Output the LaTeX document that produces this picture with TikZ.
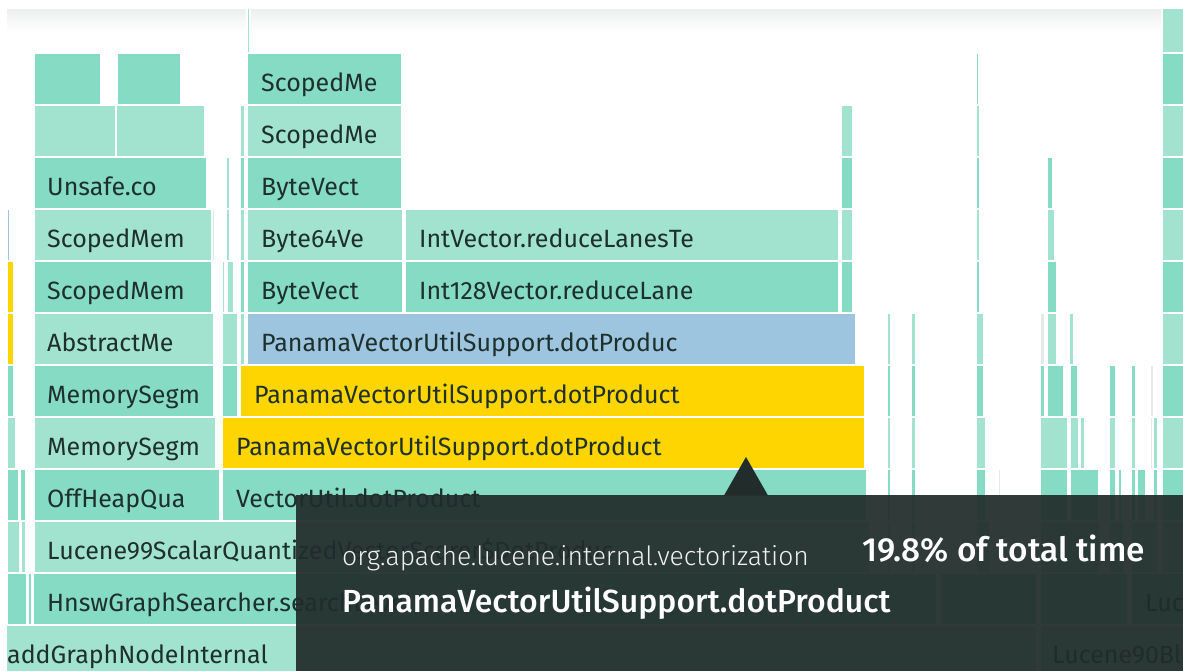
\documentclass[tikz,border=0pt]{standalone}
\usepackage{fontspec}
\setmainfont{Fira Sans}
\newfontfamily\lightf{Fira Sans Light}
\newfontfamily\medf{Fira Sans Medium}
\definecolor{tD}{HTML}{86DBC4}
\definecolor{tL}{HTML}{A2E3D0}
\definecolor{bl}{HTML}{9EC5E0}
\definecolor{yl}{HTML}{FFD500}
\definecolor{gr}{HTML}{E3EAE8}
\definecolor{txt}{HTML}{1E302C}
\definecolor{tip}{HTML}{212C2B}
\definecolor{shd}{HTML}{EDEFEF}
\tikzset{
  fr/.style={draw=white, line width=1.6pt},
  fD/.style={fr, fill=tD},
  fL/.style={fr, fill=tL},
  fB/.style={fr, fill=bl},
  fY/.style={fr, fill=yl},
  fG/.style={fr, fill=gr},
  lbl/.style={anchor=base west, inner sep=0pt, text=txt, font=\fontsize{25}{28}\selectfont},
  tiptext/.style={anchor=base west, inner sep=0pt, text=white},
}
\newcommand\bx[4]{\path[#4] (#1,{53+52*(#3-1)}) rectangle (#2,{53+52*#3});}
\newcommand\lb[4]{\node[lbl] (#1) at (#2,{91+52*(#3-1)}) {#4};}
\begin{document}
\begin{tikzpicture}[x=1pt,y=-1pt]
\useasboundingbox (0,0) rectangle (1183,670);
\fill[white] (0,0) rectangle (1183,670);
\begin{scope}
\clip (7,9) rectangle (1183,670);
\shade[top color=shd, bottom color=white] (7,9) rectangle (1183,32);
% row 0
\path[fL] (247,5) rectangle (250,53);
\path[fL] (1162,5) rectangle (1185,53);
% row 1
\bx{34}{101}{1}{fD} \bx{117}{181}{1}{fD} \bx{247}{402}{1}{fD} \bx{976}{979}{1}{fD} \bx{1162}{1185}{1}{fD}
% row 2
\bx{34}{116}{2}{fL} \bx{116}{205}{2}{fL} \bx{240}{245}{2}{fL} \bx{247}{402}{2}{fL} \bx{841}{853}{2}{fL} \bx{976}{980}{2}{fL} \bx{1162}{1185}{2}{fL}
% row 3
\bx{34}{207}{3}{fD} \bx{226}{230}{3}{fL} \bx{240}{245}{3}{fD} \bx{247}{402}{3}{fD} \bx{841}{853}{3}{fD} \bx{976}{980}{3}{fD} \bx{1047}{1053}{3}{fD} \bx{1162}{1185}{3}{fD}
% row 4
\bx{7}{10}{4}{fB} \bx{34}{212}{4}{fL} \bx{212}{215}{4}{fG} \bx{226}{230}{4}{fL} \bx{240}{245}{4}{fL} \bx{247}{403}{4}{fL} \bx{405}{839}{4}{fL} \bx{841}{853}{4}{fL} \bx{976}{980}{4}{fL} \bx{1047}{1055}{4}{fL} \bx{1162}{1185}{4}{fL}
% row 5
\bx{7}{14}{5}{fY} \bx{34}{212}{5}{fD} \bx{222}{225}{5}{fL} \bx{227}{234}{5}{fL} \bx{240}{245}{5}{fD} \bx{247}{403}{5}{fD} \bx{405}{839}{5}{fD} \bx{841}{853}{5}{fD} \bx{976}{980}{5}{fD} \bx{1047}{1057}{5}{fD} \bx{1162}{1185}{5}{fD}
% row 6
\bx{7}{14}{6}{fY} \bx{34}{214}{6}{fL} \bx{222}{238}{6}{fL} \bx{240}{245}{6}{fL} \bx{247}{856}{6}{fB} \bx{887}{891}{6}{fL} \bx{911}{916}{6}{fL} \bx{976}{984}{6}{fL} \bx{1040}{1045}{6}{fG} \bx{1047}{1057}{6}{fL} \bx{1069}{1074}{6}{fL} \bx{1162}{1185}{6}{fL}
% row 7
\bx{7}{14}{7}{fD} \bx{34}{214}{7}{fD} \bx{222}{238}{7}{fD} \bx{240}{865}{7}{fY} \bx{887}{891}{7}{fD} \bx{911}{916}{7}{fD} \bx{976}{984}{7}{fD} \bx{1040}{1045}{7}{fD} \bx{1047}{1064}{7}{fD} \bx{1070}{1078}{7}{fD} \bx{1109}{1116}{7}{fD} \bx{1131}{1136}{7}{fD} \bx{1150}{1154}{7}{fG} \bx{1162}{1185}{7}{fD}
% row 8
\bx{7}{16}{8}{fL} \bx{34}{216}{8}{fL} \bx{222}{865}{8}{fY} \bx{887}{891}{8}{fL} \bx{911}{916}{8}{fL} \bx{976}{986}{8}{fL} \bx{1040}{1068}{8}{fL} \bx{1070}{1079}{8}{fL} \bx{1080}{1085}{8}{fL} \bx{1109}{1116}{8}{fL} \bx{1131}{1136}{8}{fL} \bx{1150}{1153}{8}{fG} \bx{1153}{1158}{8}{fL} \bx{1162}{1185}{8}{fL}
% row 9
\bx{7}{19}{9}{fD} \bx{20}{26}{9}{fD} \bx{34}{220}{9}{fD} \bx{222}{867}{9}{fD} \bx{887}{891}{9}{fD} \bx{911}{916}{9}{fD} \bx{976}{986}{9}{fD} \bx{998}{1001}{9}{fG} \bx{1040}{1068}{9}{fD} \bx{1070}{1099}{9}{fD} \bx{1109}{1116}{9}{fD} \bx{1118}{1122}{9}{fD} \bx{1131}{1136}{9}{fD} \bx{1137}{1146}{9}{fD} \bx{1153}{1158}{9}{fD} \bx{1162}{1185}{9}{fD}
% row 10
\bx{7}{20}{10}{fL} \bx{21}{26}{10}{fL} \bx{34}{870}{10}{fL} \bx{887}{891}{10}{fL} \bx{911}{916}{10}{fL} \bx{976}{990}{10}{fL} \bx{1040}{1100}{10}{fL} \bx{1109}{1124}{10}{fL} \bx{1131}{1158}{10}{fL} \bx{1162}{1185}{10}{fL}
% row 11
\bx{7}{27}{11}{fD} \bx{28}{32}{11}{fD} \bx{33}{937}{11}{fD} \bx{940}{1037}{11}{fD} \bx{1040}{1128}{11}{fD} \bx{1131}{1185}{11}{fD}
% row 12
\bx{-50}{1037}{12}{fL} \bx{1040}{1185}{12}{fL}
% labels
\lb{n1}{261}{1}{ScopedMe}
\lb{n2}{261}{2}{ScopedMe}
\lb{n3}{47}{3}{Unsafe.co}
\lb{n4}{261}{3}{ByteVect}
\lb{n5}{47}{4}{ScopedMem}
\lb{n6}{261}{4}{Byte64Ve}
\lb{n7}{419}{4}{IntVector.reduceLanesTe}
\lb{n8}{47}{5}{ScopedMem}
\lb{n9}{261}{5}{ByteVect}
\lb{n10}{419}{5}{Int128Vector.reduceLane}
\lb{n11}{47}{6}{AbstractMe}
\lb{n12}{261}{6}{PanamaVectorUtilSupport.dotProduc}
\lb{n13}{47}{7}{MemorySegm}
\lb{n14}{254}{7}{PanamaVectorUtilSupport.dotProduct}
\lb{n15}{47}{8}{MemorySegm}
\lb{n16}{236}{8}{PanamaVectorUtilSupport.dotProduct}
\lb{n17}{47}{9}{OffHeapQua}
\lb{n18}{236}{9}{VectorUtil.dotProduct}
\lb{n19}{47}{10}{Lucene99ScalarQuantizedVectorScorer\$DotProduc}
\lb{n20}{47}{11}{HnswGraphSearcher.searchLevel}
\lb{n21}{1145}{11}{Luc}
\lb{n22}{7}{12}{addGraphNodeInternal}
\lb{n23}{1052}{12}{Lucene90Bl}
% tooltip
\fill[tip, opacity=0.93] (296,495) rectangle (1190,680);
\fill[tip] (724,495.5) -- (746,457) -- (768,495.5) -- cycle;
\node[tiptext, text=white!88!gray, font=\lightf\fontsize{26.5}{30}\selectfont] (pkg) at (342,565) {org.apache.lucene.internal.vectorization};
\node[tiptext, font=\medf\fontsize{32}{36}\selectfont] (fn) at (342,612) {PanamaVectorUtilSupport.dotProduct};
\node[tiptext, font=\medf\fontsize{33.4}{37}\selectfont] (pct) at (862,561) {19.8\% of total time};
\end{scope}
\end{tikzpicture}
\end{document}
